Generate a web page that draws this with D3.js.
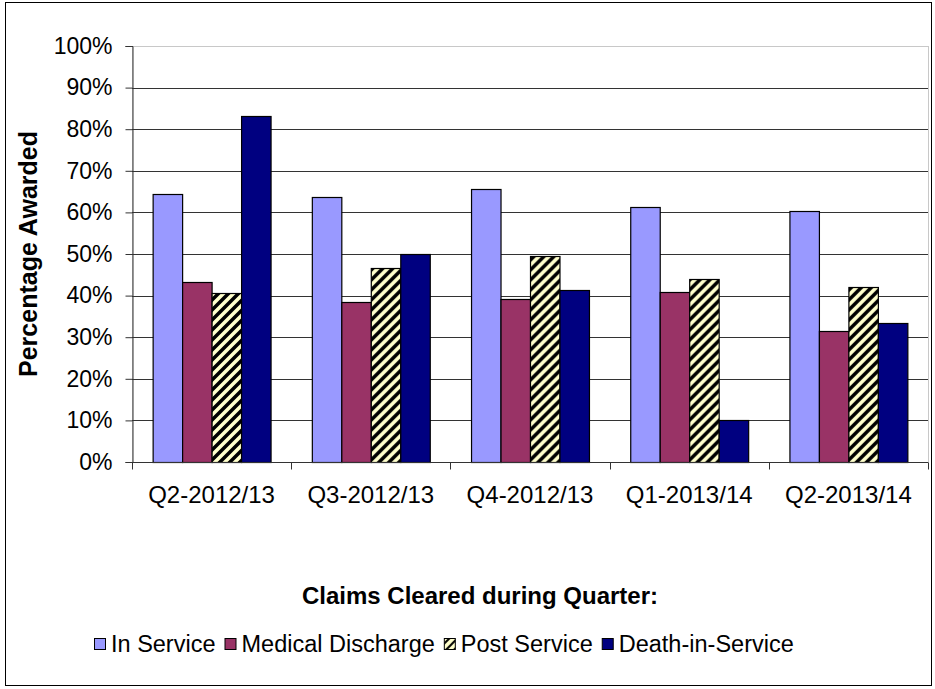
<!DOCTYPE html>
<html>
<head>
<meta charset="utf-8">
<script src="https://cdn.jsdelivr.net/npm/d3@7"></script>
<style>
  body { margin: 0; background: #fff; }
  text { font-family: Arial, "Liberation Sans", sans-serif; fill: #000; }
</style>
</head>
<body>
<svg id="chart" width="935" height="689"></svg>
<script>
// quarters along the x axis
const quarters = ["Q2-2012/13", "Q3-2012/13", "Q4-2012/13", "Q1-2013/14", "Q2-2013/14"];
const seriesNames = ["In Service", "Medical Discharge", "Post Service", "Death-in-Service"];
// percentage awarded
const inService = [64.4, 63.6, 65.6, 61.2, 60.4];
const medicalDischarge = [43.2, 38.5, 39.3, 40.8, 31.5];
const postService = [40.6, 46.7, 49.4, 44.0, 42.1];
const deathInService = [83.2, 49.9, 41.3, 10.1, 33.4];
const yTicks = [0, 10, 20, 30, 40, 50, 60, 70, 80, 90, 100];

const seriesValues = [inService, medicalDischarge, postService, deathInService];
const fills = ["#9999ff", "#993366", "url(#stripes)", "#000080"];
const legendFills = ["#9999ff", "#993366", "url(#stripesSmall)", "#000080"];

let svg = d3.select("#chart");

// outer frame
svg.append("rect").attr("x", 5.5).attr("y", 2.5).attr("width", 926).attr("height", 683)
  .attr("fill", "none").attr("stroke", "#000").attr("stroke-width", 1);

// hatch for Post Service
let defs = svg.append("defs");
function hatch(id, size, sw) {
  let p = defs.append("pattern").attr("id", id).attr("patternUnits", "userSpaceOnUse")
    .attr("width", size).attr("height", size);
  p.append("rect").attr("width", size).attr("height", size).attr("fill", "#ffffcc");
  p.append("path")
    .attr("d", `M${-size/2},${size/2} L${size/2},${-size/2} M0,${size} L${size},0 M${size/2},${size*1.5} L${size*1.5},${size/2}`)
    .attr("stroke", "#000").attr("stroke-width", sw);
}
hatch("stripes", 10, 3.5);
hatch("stripesSmall", 8, 2);

let margin = { left: 132, top: 46, right: 928, bottom: 462 };

let x = d3.scaleBand().domain(quarters).range([margin.left, margin.right]).paddingInner(0).paddingOuter(0);
let inner = d3.scaleBand().domain(d3.range(seriesNames.length))
  .range([0, x.bandwidth()]).paddingOuter(0.7).paddingInner(0);
let y = d3.scaleLinear().domain([0, 100]).range([margin.bottom, margin.top]);

// plot area border
svg.append("rect").attr("x", margin.left + 0.5).attr("y", margin.top + 0.5)
  .attr("width", margin.right - margin.left).attr("height", margin.bottom - margin.top)
  .attr("fill", "none").attr("stroke", "#c8c8c8");

// gridlines
svg.append("g").selectAll("line").data(yTicks.filter(d => d > 0 && d < 100)).enter().append("line")
  .attr("x1", margin.left).attr("x2", margin.right)
  .attr("y1", d => Math.round(y(d)) + 0.5).attr("y2", d => Math.round(y(d)) + 0.5)
  .attr("stroke", "#333");

// bars
let groups = svg.append("g").selectAll("g").data(quarters).enter().append("g")
  .attr("transform", d => `translate(${x(d)},0)`);
groups.selectAll("rect")
  .data((q, qi) => seriesValues.map((s, si) => ({ si: si, v: s[qi] })))
  .enter().append("rect")
  .attr("x", d => inner(d.si) + 0.5)
  .attr("y", d => Math.round(y(d.v)) + 0.5)
  .attr("width", inner.bandwidth())
  .attr("height", d => Math.round(y(0)) - Math.round(y(d.v)))
  .attr("fill", d => fills[d.si])
  .attr("stroke", "#000").attr("stroke-width", 1.2);

// y axis
let yAxis = svg.append("g").attr("transform", `translate(${margin.left + 0.5},0)`)
  .call(d3.axisLeft(y).tickValues(yTicks).tickFormat(d => d + "%").tickSize(7).tickPadding(13));
yAxis.selectAll("text").style("font-size", "23px").style("font-family", "Arial, 'Liberation Sans', sans-serif");
yAxis.select(".domain").attr("stroke", "#333");
yAxis.selectAll(".tick line").attr("stroke", "#333");

// x axis: tick marks at category edges
let xAxis = svg.append("g").attr("transform", `translate(0,${margin.bottom + 0.5})`);
xAxis.append("line").attr("x1", margin.left).attr("x2", margin.right).attr("stroke", "#333");
xAxis.selectAll(".edge").data(d3.range(quarters.length + 1)).enter().append("line")
  .attr("x1", i => Math.round(margin.left + i * x.step()) + 0.5)
  .attr("x2", i => Math.round(margin.left + i * x.step()) + 0.5)
  .attr("y1", 0).attr("y2", 7).attr("stroke", "#333");
xAxis.selectAll("text").data(quarters).enter().append("text")
  .attr("x", d => x(d) + x.bandwidth() / 2).attr("y", 40)
  .attr("text-anchor", "middle").style("font-size", "24px").text(d => d);

// axis titles
svg.append("text").attr("transform", "translate(37,254) rotate(-90)")
  .attr("text-anchor", "middle").style("font-size", "25px").style("font-weight", "bold")
  .text("Percentage Awarded");
svg.append("text").attr("x", 480).attr("y", 604).attr("text-anchor", "middle")
  .style("font-size", "24px").style("font-weight", "bold").text("Claims Cleared during Quarter:");

// legend
let legend = svg.append("g").attr("transform", "translate(94,652)");
let lx = 0;
seriesNames.forEach((name, i) => {
  let g = legend.append("g").attr("transform", `translate(${lx},0)`);
  g.append("rect").attr("x", 0.5).attr("y", -13.5).attr("width", 11).attr("height", 11)
    .attr("fill", legendFills[i]).attr("stroke", "#000");
  let t = g.append("text").attr("x", 17).attr("y", 0).style("font-size", "23.5px").text(name);
  lx += 17 + t.node().getComputedTextLength() + 9;
});
</script>
</body>
</html>
